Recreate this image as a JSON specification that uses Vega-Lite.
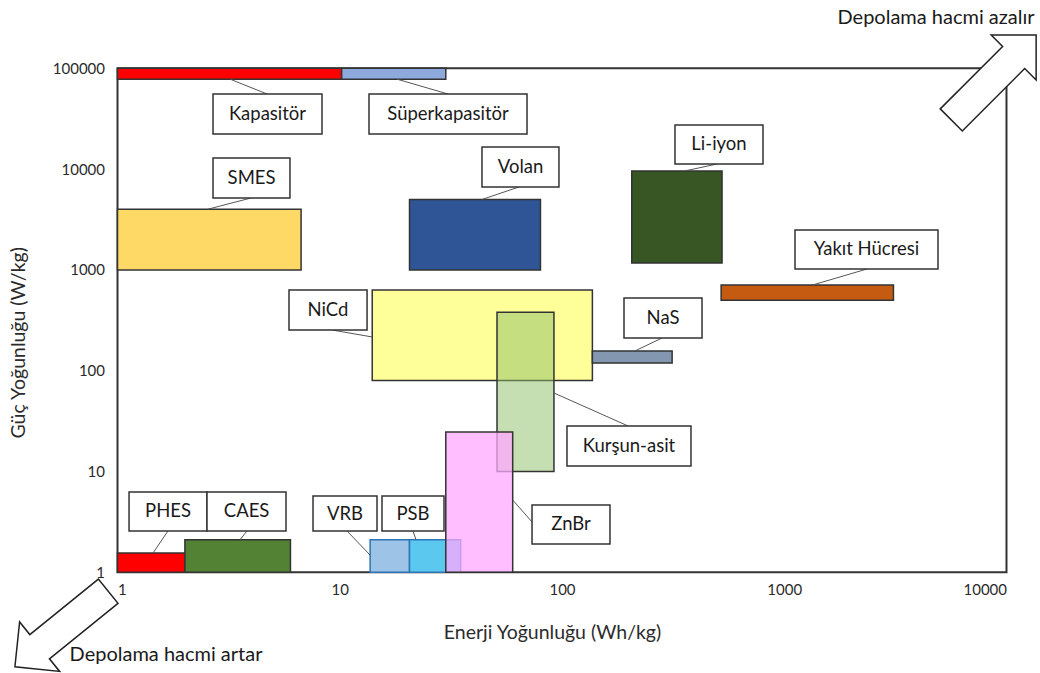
{
  "$schema": "https://vega.github.io/schema/vega-lite/v6.json",
  "width": 889,
  "height": 504,
  "autosize": "none",
  "padding": {"left": 117.5, "top": 68.3, "right": 33.5, "bottom": 100.4},
  "background": "white",
  "config": {
    "view": {"stroke": "#333333", "strokeWidth": 2},
    "font": "Lato",
    "axis": {"grid": false, "ticks": false, "domain": false, "labelFont": "Lato", "labelFontSize": 15, "labelColor": "#2b2b2b", "titleFont": "Lato", "titleFontSize": 19.5, "titleFontWeight": "normal", "titleColor": "#2b2b2b"}
  },
  "datasets": {
    "systems": [
      {"name": "Kapasitör", "x1": 1, "x2": 10.2, "y1": 78000, "y2": 100000},
      {"name": "Süperkapasitör", "x1": 10.2, "x2": 30, "y1": 78000, "y2": 100000},
      {"name": "SMES", "x1": 1, "x2": 6.7, "y1": 1000, "y2": 4000},
      {"name": "Volan", "x1": 20.6, "x2": 80, "y1": 1000, "y2": 5000},
      {"name": "Li-iyon", "x1": 206, "x2": 525, "y1": 1170, "y2": 9600},
      {"name": "Yakıt Hücresi", "x1": 520, "x2": 3100, "y1": 500, "y2": 710},
      {"name": "NiCd", "x1": 14, "x2": 137, "y1": 80, "y2": 630},
      {"name": "NaS", "x1": 137, "x2": 313, "y1": 119, "y2": 157},
      {"name": "Kurşun-asit", "x1": 51, "x2": 92, "y1": 10, "y2": 380},
      {"name": "PHES", "x1": 1, "x2": 2.01, "y1": 1, "y2": 1.55},
      {"name": "CAES", "x1": 2.01, "x2": 6, "y1": 1, "y2": 2.1},
      {"name": "VRB", "x1": 13.7, "x2": 20.6, "y1": 1, "y2": 2.1},
      {"name": "PSB", "x1": 20.6, "x2": 35, "y1": 1, "y2": 2.1},
      {"name": "ZnBr", "x1": 30, "x2": 60, "y1": 1, "y2": 24.6}
    ],
    "labels": [
      {"name": "Kapasitör", "bx1": 2.69, "bx2": 8.32, "by1": 22300, "by2": 55600, "tx": 4.73, "ty": 35200, "lx1": 3.21, "ly1": 78000, "lx2": 4.71, "ly2": 55600},
      {"name": "Süperkapasitör", "bx1": 13.54, "bx2": 69.6, "by1": 22300, "by2": 55600, "tx": 30.7, "ty": 35200, "lx1": 18.1, "ly1": 78000, "lx2": 30.7, "ly2": 55600},
      {"name": "SMES", "bx1": 2.69, "bx2": 5.97, "by1": 5170, "by2": 12890, "tx": 4.01, "ty": 8160, "lx1": 3.99, "ly1": 5170, "lx2": 2.55, "ly2": 4000},
      {"name": "Volan", "bx1": 43.65, "bx2": 96.9, "by1": 6640, "by2": 16570, "tx": 65.1, "ty": 10490, "lx1": 64.0, "ly1": 6640, "lx2": 43.65, "ly2": 5000},
      {"name": "Li-iyon", "bx1": 322.4, "bx2": 802.4, "by1": 11230, "by2": 27380, "tx": 508.7, "ty": 17540, "lx1": 498.3, "ly1": 11230, "lx2": 357.6, "ly2": 9600},
      {"name": "Yakıt Hücresi", "bx1": 1118, "bx2": 4918, "by1": 1021, "by2": 2488, "tx": 2345, "ty": 1594, "lx1": 2357, "ly1": 1021, "lx2": 1347, "ly2": 710},
      {"name": "NiCd", "bx1": 5.91, "bx2": 13.27, "by1": 253.4, "by2": 632, "tx": 8.85, "ty": 400, "lx1": 9.23, "ly1": 253.4, "lx2": 14, "ly2": 216},
      {"name": "NaS", "bx1": 190.1, "bx2": 426.6, "by1": 211, "by2": 526, "tx": 284.7, "ty": 333, "lx1": 281.8, "ly1": 211, "lx2": 213, "ly2": 157},
      {"name": "Kurşun-asit", "bx1": 105.3, "bx2": 380.5, "by1": 11.34, "by2": 28.3, "tx": 200.2, "ty": 17.9, "lx1": 92, "ly1": 60.1, "lx2": 198.2, "ly2": 28.3},
      {"name": "ZnBr", "bx1": 73.3, "bx2": 164.4, "by1": 1.91, "by2": 4.65, "tx": 109.8, "ty": 2.98, "lx1": 60, "ly1": 5.22, "lx2": 73.3, "ly2": 3.16},
      {"name": "VRB", "bx1": 7.58, "bx2": 14.71, "by1": 2.57, "by2": 5.71, "tx": 10.56, "ty": 3.83, "lx1": 10.78, "ly1": 2.57, "lx2": 13.7, "ly2": 1.48},
      {"name": "PSB", "bx1": 15.49, "bx2": 29.45, "by1": 2.57, "by2": 5.71, "tx": 21.36, "ty": 3.83, "lx1": 21.36, "ly1": 2.57, "lx2": 22.03, "ly2": 2.1},
      {"name": "PHES", "bx1": 1.127, "bx2": 2.527, "by1": 2.57, "by2": 6.26, "tx": 1.687, "ty": 4.01, "lx1": 1.687, "ly1": 2.57, "lx2": 1.444, "ly2": 1.55},
      {"name": "CAES", "bx1": 2.527, "bx2": 5.73, "by1": 2.57, "by2": 6.26, "tx": 3.81, "ty": 4.01, "lx1": 3.82, "ly1": 2.57, "lx2": 3.56, "ly2": 2.1}
    ]
  },
  "layer": [
    {
      "data": {"name": "systems"},
      "mark": {"type": "rect", "strokeWidth": 1.5},
      "encoding": {
        "x": {"field": "x1", "type": "quantitative", "scale": {"type": "log", "domain": [1, 10000], "nice": false}, "axis": {"values": [1, 10, 100, 1000, 10000], "format": "d", "labelPadding": 10, "titleX": 434.5, "titleY": 60, "titleBaseline": "middle"}, "title": "Enerji Yoğunluğu (Wh/kg)"},
        "x2": {"field": "x2"},
        "y": {"field": "y1", "type": "quantitative", "scale": {"type": "log", "domain": [1, 100000], "nice": false}, "axis": {"values": [1, 10, 100, 1000, 10000, 100000], "format": "d", "labelPadding": 13, "titleX": -99.5, "titleY": 274, "titleBaseline": "middle"}, "title": "Güç Yoğunluğu (W/kg)"},
        "y2": {"field": "y2"},
        "color": {"field": "name", "type": "nominal", "legend": null, "sort": null,
          "scale": {"domain": ["Kapasitör", "Süperkapasitör", "SMES", "Volan", "Li-iyon", "Yakıt Hücresi", "NiCd", "NaS", "Kurşun-asit", "PHES", "CAES", "VRB", "PSB", "ZnBr"],
                    "range": ["#FF0000", "#8EA9DB", "#FFD966", "#2F5597", "#375623", "#C55A11", "#FFFF99", "#8497B0", "#8CC068", "#FF0000", "#548235", "#9DC3E6", "#5BC8F0", "#FFA8FF"]}},
        "fillOpacity": {"condition": [
          {"test": "datum.name === 'Kurşun-asit'", "value": 0.5},
          {"test": "datum.name === 'ZnBr'", "value": 0.75}
        ], "value": 1},
        "stroke": {"condition": {"test": "datum.name === 'VRB' || datum.name === 'PSB'", "value": "#2E75B6"}, "value": "#333333"}
      }
    },
    {
      "data": {"name": "labels"},
      "mark": {"type": "rule", "color": "#555555", "strokeWidth": 1},
      "encoding": {
        "x": {"field": "lx1", "type": "quantitative", "title": "Enerji Yoğunluğu (Wh/kg)"},
        "y": {"field": "ly1", "type": "quantitative", "title": "Güç Yoğunluğu (W/kg)"},
        "x2": {"field": "lx2"},
        "y2": {"field": "ly2"}
      }
    },
    {
      "data": {"name": "labels"},
      "mark": {"type": "rect", "fill": "white", "stroke": "#333333", "strokeWidth": 1.5},
      "encoding": {
        "x": {"field": "bx1", "type": "quantitative", "title": "Enerji Yoğunluğu (Wh/kg)"},
        "x2": {"field": "bx2"},
        "y": {"field": "by1", "type": "quantitative", "title": "Güç Yoğunluğu (W/kg)"},
        "y2": {"field": "by2"}
      }
    },
    {
      "data": {"name": "labels"},
      "mark": {"type": "text", "font": "Lato", "fontSize": 18.5, "color": "#1a1a1a", "align": "center", "baseline": "middle"},
      "encoding": {
        "x": {"field": "tx", "type": "quantitative", "title": "Enerji Yoğunluğu (Wh/kg)"},
        "y": {"field": "ty", "type": "quantitative", "title": "Güç Yoğunluğu (W/kg)"},
        "text": {"field": "name"}
      }
    },
    {
      "data": {"values": [{"ax": 8760, "ay": 81060}]},
      "mark": {"type": "point", "filled": true, "fill": "white", "stroke": "#222222", "strokeWidth": 1.5, "opacity": 1, "angle": -45, "shape": "M-1,-0.26L0.47,-0.26L0.47,-0.53L1,0L0.47,0.53L0.47,0.26L-1,0.26Z", "size": 14400},
      "encoding": {
        "x": {"field": "ax", "type": "quantitative", "title": "Enerji Yoğunluğu (Wh/kg)"},
        "y": {"field": "ay", "type": "quantitative", "title": "Güç Yoğunluğu (W/kg)"}
      }
    },
    {
      "data": {"values": [{"ax": 0.56, "ay": 0.274}]},
      "mark": {"type": "point", "filled": true, "fill": "white", "stroke": "#222222", "strokeWidth": 1.5, "opacity": 1, "angle": 141, "shape": "M-1,-0.26L0.47,-0.26L0.47,-0.53L1,0L0.47,0.53L0.47,0.26L-1,0.26Z", "size": 14400},
      "encoding": {
        "x": {"field": "ax", "type": "quantitative", "title": "Enerji Yoğunluğu (Wh/kg)"},
        "y": {"field": "ay", "type": "quantitative", "title": "Güç Yoğunluğu (W/kg)"}
      }
    },
    {
      "data": {"values": [
        {"t": "Depolama hacmi azalır", "px": 4818, "py": 315500},
        {"t": "Depolama hacmi artar", "px": 1.653, "py": 0.1512}
      ]},
      "mark": {"type": "text", "font": "Lato", "fontSize": 20, "color": "#1a1a1a", "align": "center", "baseline": "middle"},
      "encoding": {
        "x": {"field": "px", "type": "quantitative", "title": "Enerji Yoğunluğu (Wh/kg)"},
        "y": {"field": "py", "type": "quantitative", "title": "Güç Yoğunluğu (W/kg)"},
        "text": {"field": "t"}
      }
    }
  ]
}
